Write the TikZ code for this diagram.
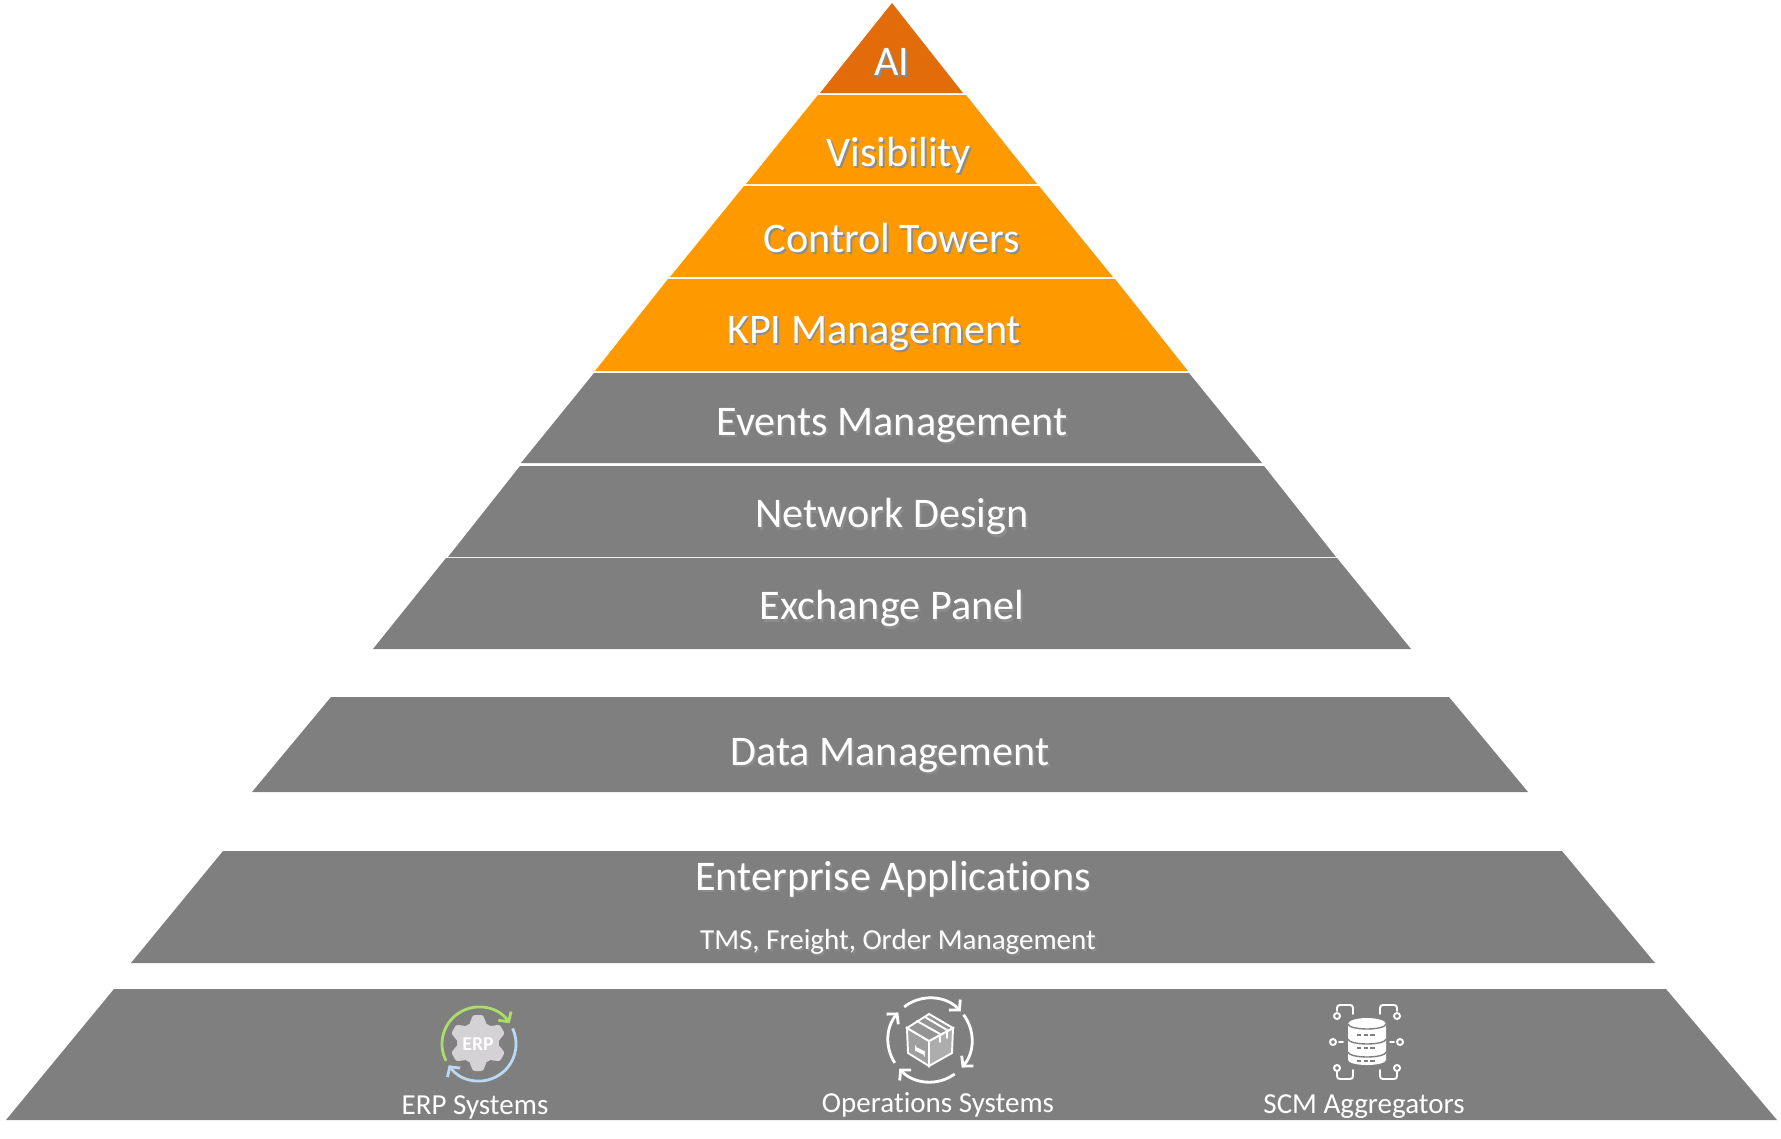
\documentclass[tikz,border=0pt]{standalone}
\usepackage{fontspec}
\setmainfont{Carlito}[Ligatures=CommonOff]
\usetikzlibrary{arrows.meta,calc}
\definecolor{tierai}{HTML}{E26B0A}
\definecolor{tierorange}{HTML}{FF9900}
\definecolor{tiergrey}{HTML}{7F7F7F}
\definecolor{ringgreen}{HTML}{A9DE6B}
\definecolor{ringblue}{HTML}{BBD9F2}
\definecolor{gearfill}{HTML}{D4D2D4}
\newcommand{\shadowed}[1]{\leavevmode\rlap{\kern0.5pt\raisebox{-0.6pt}{\textcolor{black!45}{#1}}}#1}
\tikzset{
  tierlabel/.style={text=white,font=\fontsize{12}{15}\selectfont,inner sep=0pt},
  iconlabel/.style={text=white,font=\fontsize{8.25}{10}\selectfont,inner sep=0pt},
  iconline/.style={draw=white,line width=0.55pt,line cap=round},
  ringarrow/.style={-{Straight Barb[length=2pt,width=4.4pt]},line width=0.8pt}
}
\begin{document}
\begin{tikzpicture}[x=0.01cm,y=-0.01cm,>=Stealth]
  \useasboundingbox (0,0) rectangle (1781,1139);
  % upper pyramid
  \fill[tierai] (892,3) -- (963,93) -- (820,93) -- cycle;
  \fill[tierorange] (818,95) -- (966,95) -- (1037,184) -- (746,184) -- cycle;
  \fill[tierorange] (744,186) -- (1039,186) -- (1113,277) -- (670,277) -- cycle;
  \fill[tierorange] (668,279) -- (1115,279) -- (1188,371) -- (595,371) -- cycle;
  \fill[tiergrey] (594,373) -- (1189,373) -- (1262,463) -- (521,463) -- cycle;
  \fill[tiergrey] (520,466) -- (1264,466) -- (1336,557) -- (448,557) -- cycle;
  \fill[tiergrey] (446,558) -- (1337,558) -- (1411,649) -- (373,649) -- cycle;
  % lower tiers
  \fill[tiergrey] (331,697) -- (1449,697) -- (1528,792) -- (252,792) -- cycle;
  \fill[tiergrey] (223,851) -- (1562,851) -- (1655,963) -- (131,963) -- cycle;
  \fill[tiergrey] (114,989) -- (1666,989) -- (1777,1120) -- (6,1120) -- cycle;
  % labels
  \node[tierlabel] (ai) at (892,63) {\shadowed{AI}};
  \node[tierlabel] (visibility) at (899,156) {\shadowed{Visibility}};
  \node[tierlabel] (towers) at (892,239) {\shadowed{Control Towers}};
  \node[tierlabel] (kpi) at (874,335) {\shadowed{KPI Management}};
  \node[tierlabel] (events) at (892,427) {\shadowed{Events Management}};
  \node[tierlabel] (network) at (892,518) {\shadowed{Network Design}};
  \node[tierlabel] (exchange) at (892,610) {\shadowed{Exchange Panel}};
  \node[tierlabel] (data) at (890,757) {\shadowed{Data Management}};
  \node[tierlabel] (enterprise) at (893,880) {\shadowed{Enterprise Applications}};
  \node[iconlabel] (tms) at (898,943) {\shadowed{TMS, Freight, Order Management}};
  \node[iconlabel] (erp) at (475,1107) {ERP Systems};
  \node[iconlabel] (ops) at (938,1105) {Operations Systems};
  \node[iconlabel] (scm) at (1364,1107) {SCM Aggregators};
  % erp icon
  \draw[ringarrow,ringgreen] (479,1044) ++(153:37) arc[start angle=153,end angle=326,radius=37];
  \draw[ringarrow,ringblue] (479,1044) ++(335:37) arc[start angle=335,end angle=505,radius=37];
  \fill[gearfill] (478,1043) circle (21);
  \foreach \a in {30,90,...,330}
    \fill[gearfill,rotate around={\a:(478,1043)},rounded corners=0.6pt] (496,1034) -- (506,1038) -- (506,1048) -- (496,1052) -- cycle;
  \node[text=white,inner sep=0pt,font=\fontsize{5.6}{6}\selectfont\bfseries] (gear) at (478,1044) {ERP};
  % box icon
  \foreach \a/\b in {232/317,323/401,54/137,147/221}
    \draw[ringarrow,draw=white] (930,1040) ++(\a:42) arc[start angle=\a,end angle=\b,radius=42];
  \filldraw[iconline,fill=black!38] (907,1028) -- (929,1041) -- (929,1066) -- (908,1053) -- cycle;
  \filldraw[iconline,fill=black!32] (953,1028) -- (929,1041) -- (929,1066) -- (952,1053) -- cycle;
  \filldraw[iconline,fill=black!42] (907,1028) -- (929,1014) -- (953,1028) -- (929,1041) -- cycle;
  \draw[iconline] (917,1021) -- (940,1034) (925,1017) -- (947,1030) (940,1034) -- (940,1042) (947,1030) -- (947,1038);
  \draw[iconline,rounded corners=0.5pt] (916,1048) -- (924,1052) -- (924,1054) -- (916,1050) -- cycle;
  % database icon
  \fill[white] (1348,1024) -- (1348,1060) arc[start angle=180,end angle=0,x radius=19,y radius=5]
    -- (1386,1024) arc[start angle=0,end angle=-180,x radius=19,y radius=6] -- cycle;
  \foreach \y in {1024,1039,1052}
    \draw[tiergrey,line width=0.4pt] (1348,\y) arc[start angle=180,end angle=0,x radius=19,y radius=5];
  \foreach \y in {1035,1048,1061}
    \draw[tiergrey,line width=0.5pt,dash pattern=on 1.2pt off 0.7pt] (1357,\y) -- (1377,\y);
  \foreach \x in {1337,1397}{
    \draw[iconline] (\x,1016) circle (3);
    \draw[iconline] (\x,1068) circle (3);}
  \draw[iconline] (1333,1042) circle (3) (1400,1042) circle (3);
  \draw[iconline] (1339,1042) -- (1343,1042) (1390,1042) -- (1394,1042);
  \draw[iconline,rounded corners=0.8pt] (1337,1011) -- (1337,1005) -- (1353,1005) -- (1353,1014);
  \draw[iconline,rounded corners=0.8pt] (1397,1011) -- (1397,1005) -- (1380,1005) -- (1380,1014);
  \draw[iconline,rounded corners=0.8pt] (1337,1072) -- (1337,1079) -- (1353,1079) -- (1353,1070);
  \draw[iconline,rounded corners=0.8pt] (1397,1072) -- (1397,1079) -- (1380,1079) -- (1380,1070);
\end{tikzpicture}
\end{document}
